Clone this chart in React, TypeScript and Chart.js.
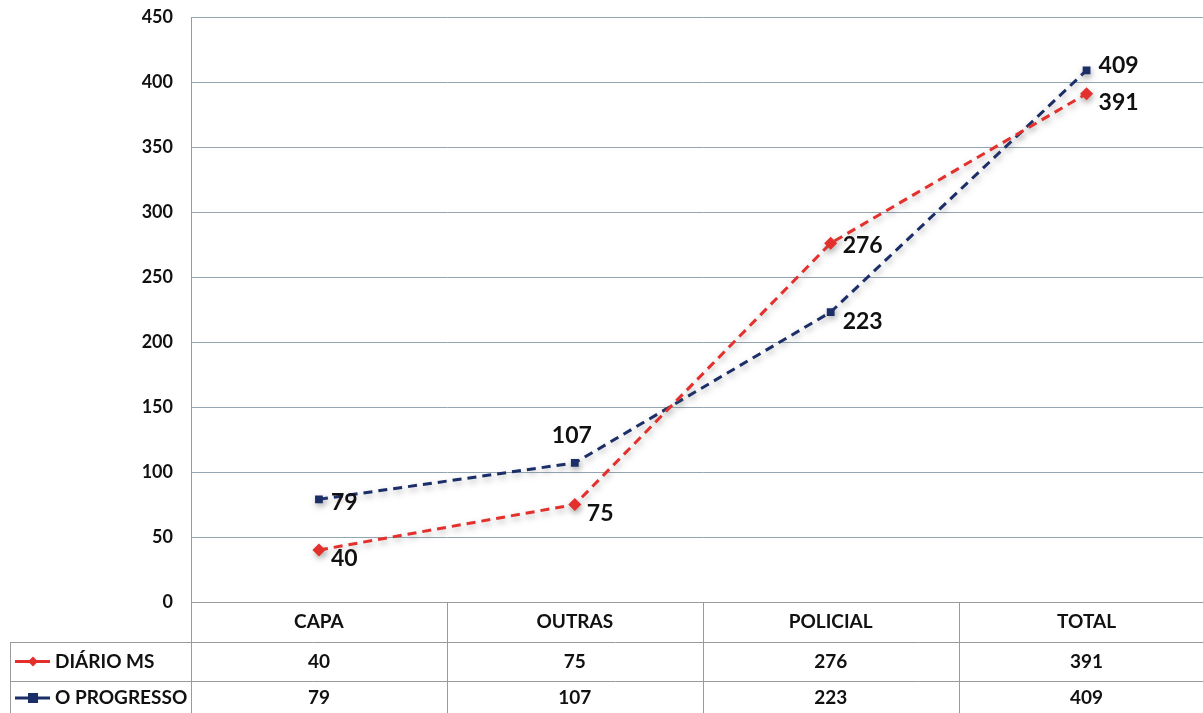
import React, { useEffect, useRef } from "react";
import { Chart, registerables } from "chart.js";

Chart.register(...registerables);

const categories = ["CAPA", "OUTRAS", "POLICIAL", "TOTAL"];
const diarioMS = [40, 75, 276, 391];
const oProgresso = [79, 107, 223, 409];
const seriesNames = ["DIÁRIO MS", "O PROGRESSO"];
const yTicks = [0, 50, 100, 150, 200, 250, 300, 350, 400, 450];
// where each value label sits relative to its point
const diarioLabelSide = ["right", "right", "right", "right"];
const progressoLabelSide = ["right", "above", "right", "right"];

const RED = "#e3302c";
const NAVY = "#1b2e68";
const GRID = "#93a5b1";
const FONT = "Lato, 'Noto Sans', sans-serif";

const W = 1221;
const H = 713;

const shadowPlugin = {
  id: "lineShadow",
  beforeDatasetDraw(chart: any) {
    const ctx = chart.ctx;
    ctx.save();
    ctx.shadowColor = "rgba(110,110,110,0.55)";
    ctx.shadowBlur = 6;
    ctx.shadowOffsetX = 1;
    ctx.shadowOffsetY = 3;
  },
  afterDatasetDraw(chart: any) {
    chart.ctx.restore();
  },
};

const labelPlugin = {
  id: "valueLabels",
  afterDatasetsDraw(chart: any) {
    const ctx = chart.ctx;
    const sides = [diarioLabelSide, progressoLabelSide];
    ctx.save();
    ctx.font = `bold 23px ${FONT}`;
    ctx.fillStyle = "#111";
    chart.data.datasets.forEach((ds: any, di: number) => {
      const meta = chart.getDatasetMeta(di);
      meta.data.forEach((pt: any, i: number) => {
        const v = ds.data[i];
        const side = sides[di][i];
        if (side === "above") {
          ctx.textAlign = "center";
          ctx.textBaseline = "middle";
          ctx.fillText(String(v), pt.x - 3, pt.y - 27);
        } else {
          ctx.textAlign = "left";
          ctx.textBaseline = "middle";
          const dy = di === 1 && i === 3 ? -5 : di === 0 && i === 2 ? 2 : di === 1 && i === 0 ? 3 : 9;
          ctx.fillText(String(v), pt.x + 12, pt.y + dy);
        }
      });
    });
    ctx.restore();
  },
};

const tablePlugin = {
  id: "dataTable",
  afterDraw(chart: any) {
    const ctx = chart.ctx;
    const area = chart.chartArea;
    const xs = chart.scales.x;
    const bottom = area.bottom;
    const rowH = 39.5;
    const r1 = bottom + rowH;
    const r2 = bottom + rowH * 2;
    const left = 10;
    const colW = (area.right - area.left) / categories.length;
    ctx.save();
    ctx.strokeStyle = "#9a9a9a";
    ctx.lineWidth = 1;
    ctx.beginPath();
    ctx.moveTo(area.left, bottom + 0.5);
    ctx.lineTo(W, bottom + 0.5);
    ctx.moveTo(left, Math.round(r1) + 0.5);
    ctx.lineTo(W, Math.round(r1) + 0.5);
    ctx.moveTo(left, Math.round(r2) + 0.5);
    ctx.lineTo(W, Math.round(r2) + 0.5);
    ctx.moveTo(left + 0.5, Math.round(r1));
    ctx.lineTo(left + 0.5, H);
    for (let i = 0; i <= categories.length; i++) {
      const x = Math.round(area.left + colW * i) + 0.5;
      ctx.moveTo(x, bottom);
      ctx.lineTo(x, H);
    }
    ctx.stroke();

    ctx.fillStyle = "#111";
    ctx.textAlign = "center";
    ctx.textBaseline = "middle";
    ctx.font = `bold 19px ${FONT}`;
    categories.forEach((c, i) => {
      const x = xs.getPixelForValue(i);
      ctx.fillText(c, x, bottom + 20);
      ctx.fillText(String(diarioMS[i]), x, r1 + 20);
      ctx.fillText(String(oProgresso[i]), x, r2 + 17);
    });

    const keys = [
      { name: seriesNames[0], color: RED, y: r1 + 20, shape: "diamond" },
      { name: seriesNames[1], color: NAVY, y: r2 + 17, shape: "square" },
    ];
    keys.forEach((k) => {
      ctx.strokeStyle = k.color;
      ctx.lineWidth = 3;
      ctx.beginPath();
      ctx.moveTo(15, k.y);
      ctx.lineTo(50, k.y);
      ctx.stroke();
      ctx.fillStyle = k.color;
      ctx.beginPath();
      if (k.shape === "diamond") {
        ctx.moveTo(33, k.y - 5);
        ctx.lineTo(38, k.y);
        ctx.lineTo(33, k.y + 5);
        ctx.lineTo(28, k.y);
        ctx.closePath();
      } else {
        ctx.rect(28, k.y - 5, 10, 10);
      }
      ctx.fill();
      ctx.fillStyle = "#111";
      ctx.textAlign = "left";
      ctx.font = `bold 19px ${FONT}`;
      ctx.fillText(k.name, 55, k.y);
    });
    ctx.restore();
  },
};

export default function App() {
  const ref = useRef<HTMLCanvasElement | null>(null);
  useEffect(() => {
    if (!ref.current) return;
    const chart = new Chart(ref.current, {
      type: "line",
      data: {
        labels: categories,
        datasets: [
          {
            label: seriesNames[0],
            data: diarioMS,
            borderColor: RED,
            backgroundColor: RED,
            borderWidth: 3,
            borderDash: [9, 6],
            pointStyle: "rectRot",
            pointRadius: 6.5,
            pointBorderWidth: 0,
            tension: 0,
          },
          {
            label: seriesNames[1],
            data: oProgresso,
            borderColor: NAVY,
            backgroundColor: NAVY,
            borderWidth: 3,
            borderDash: [9, 6],
            pointStyle: "rect",
            pointRadius: 5.5,
            pointBorderWidth: 0,
            tension: 0,
          },
        ],
      },
      options: {
        responsive: false,
        animation: false,
        devicePixelRatio: 1,
        layout: { padding: { top: 17, bottom: 111, left: 0, right: 0 } },
        plugins: { legend: { display: false }, tooltip: { enabled: false } },
        scales: {
          x: {
            display: false,
            offset: true,
          },
          y: {
            min: 0,
            max: 450,
            afterBuildTicks(scale: any) {
              scale.ticks = yTicks.map((v) => ({ value: v }));
            },
            afterFit(scale: any) {
              scale.width = 191;
              scale.paddingTop = 0;
              scale.paddingBottom = 0;
            },
            ticks: {
              stepSize: 50,
              padding: 18,
              color: "#111",
              font: { family: FONT, size: 18, weight: "bold" },
            },
            grid: { color: GRID, lineWidth: 1, drawTicks: false },
            border: { color: "#9a9a9a", width: 1 },
          },
        },
      },
      plugins: [shadowPlugin, labelPlugin, tablePlugin],
    } as any);
    return () => chart.destroy();
  }, []);
  return (
    <div
      style={{
        position: "fixed",
        left: 0,
        top: 0,
        width: 1203,
        height: 713,
        overflow: "hidden",
        background: "#fff",
      }}
    >
      <canvas ref={ref} width={W} height={H} style={{ display: "block" }} />
    </div>
  );
}
